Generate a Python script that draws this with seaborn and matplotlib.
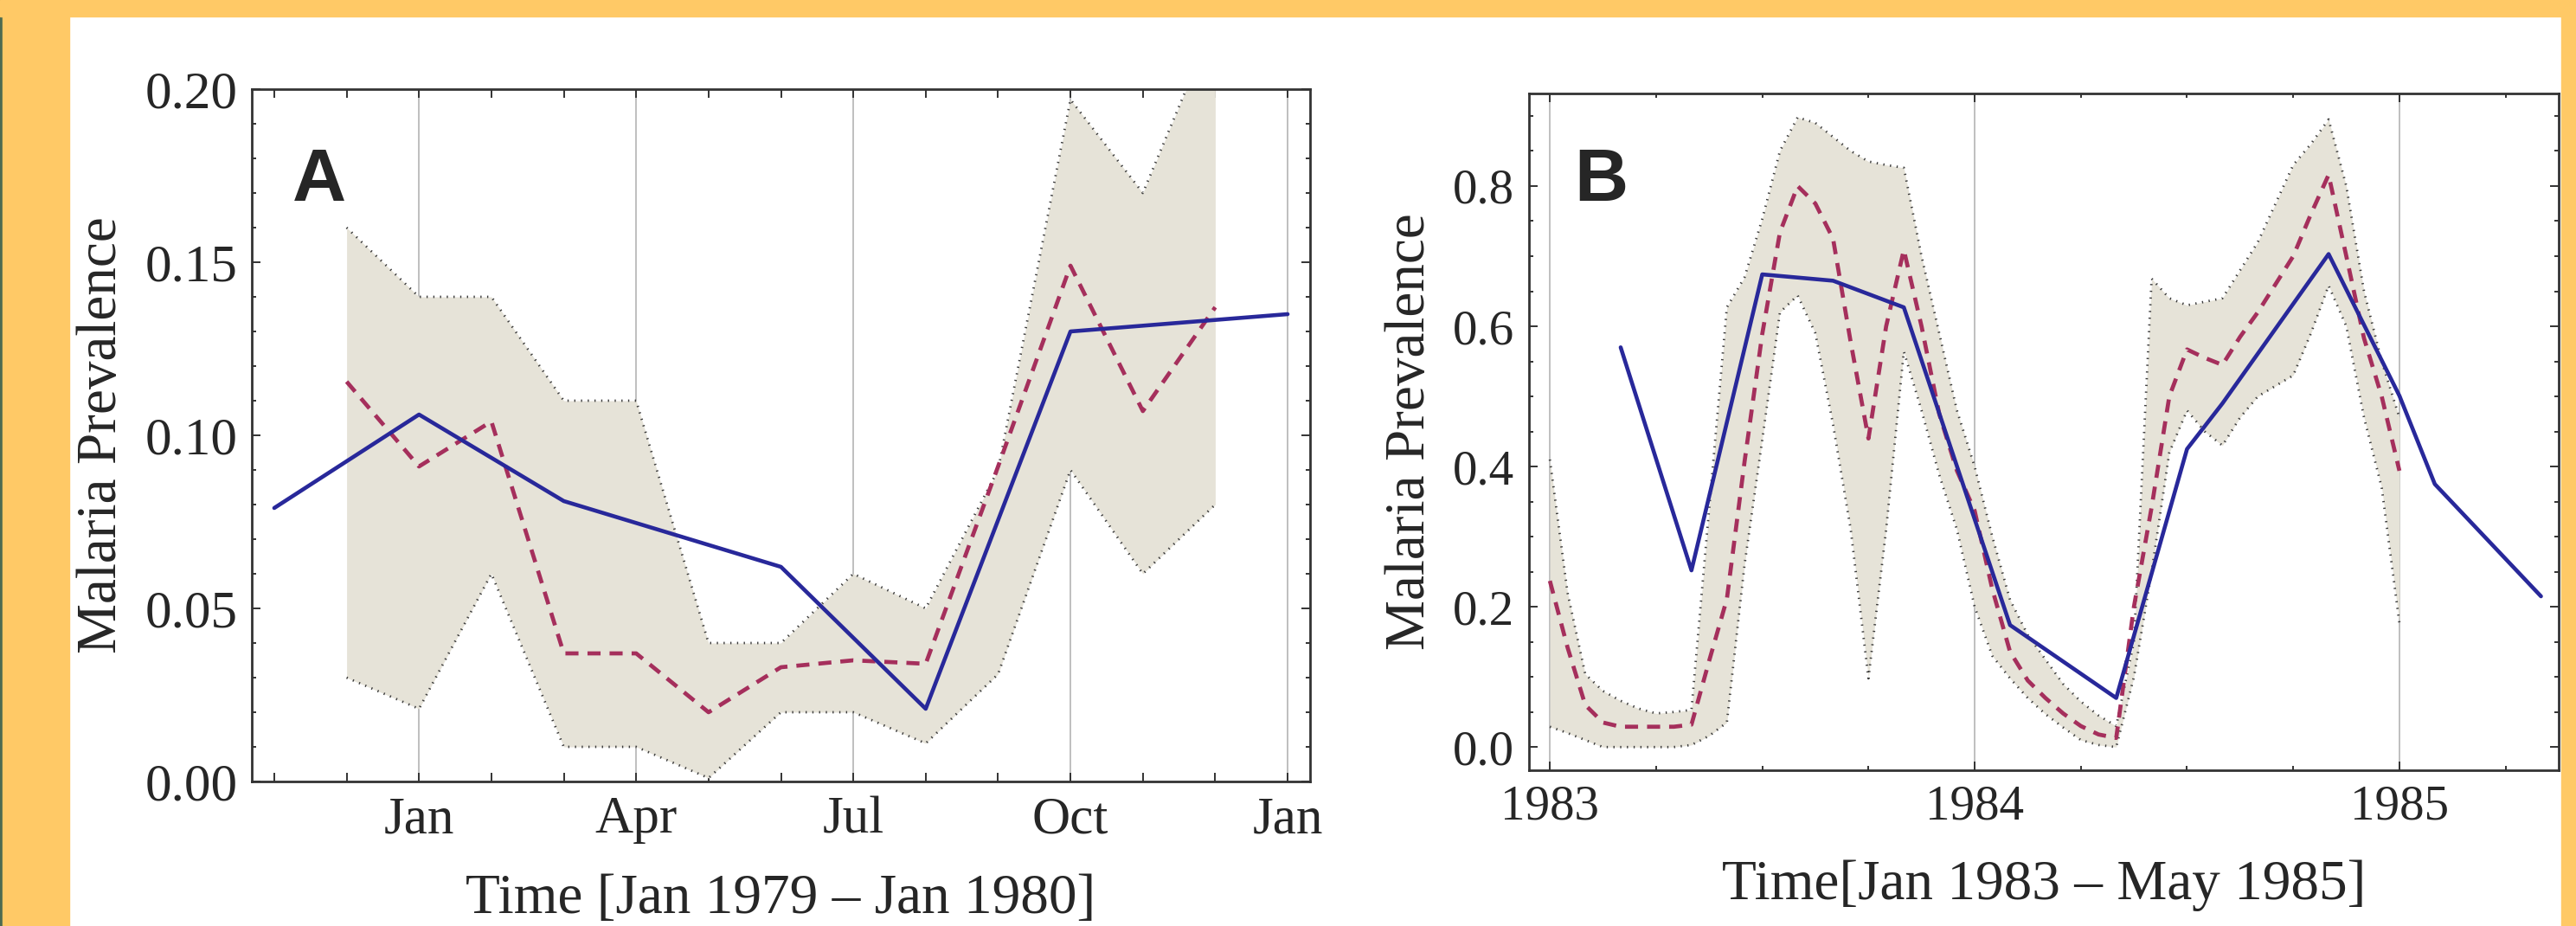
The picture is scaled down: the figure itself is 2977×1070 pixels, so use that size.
import numpy as np
import seaborn as sns
import matplotlib.pyplot as plt
from matplotlib.patches import Rectangle
from matplotlib.ticker import MultipleLocator, FixedLocator

# ---- Panel A: Jan 1979 - Jan 1980 (x in months, 0 = first "Jan" tick) ----
a_obs_months = [-2, 0, 2, 5, 7, 9, 12]
a_obs = [0.079, 0.106, 0.081, 0.062, 0.021, 0.130, 0.135]

a_fit_months = [-1, 0, 1, 2, 3, 4, 5, 6, 7, 8, 9, 10, 11]
a_fit_mean = [0.1155, 0.091, 0.104, 0.037, 0.037, 0.020, 0.033, 0.035, 0.034, 0.091, 0.149, 0.107, 0.137]
a_fit_hi = [0.160, 0.140, 0.140, 0.110, 0.110, 0.040, 0.040, 0.060, 0.050, 0.090, 0.197, 0.170, 0.220]
a_fit_lo = [0.030, 0.021, 0.060, 0.010, 0.010, 0.001, 0.020, 0.020, 0.011, 0.031, 0.090, 0.060, 0.080]

a_tick_pos = [0, 3, 6, 9, 12]
a_tick_labels = ["Jan", "Apr", "Jul", "Oct", "Jan"]

# ---- Panel B: Jan 1983 - May 1985 (x in months, 0 = Jan 1983) ----
b_obs_months = [2, 4, 6, 8, 10, 13, 16, 18, 19, 22, 24, 25, 28]
b_obs = [0.570, 0.252, 0.674, 0.665, 0.627, 0.174, 0.070, 0.425, 0.490, 0.703, 0.501, 0.375, 0.215]

b_fit_months = [0, 0.5, 1, 1.5, 2, 2.5, 3, 3.5, 4, 4.5, 5, 5.5, 6, 6.5, 7, 7.5, 8, 8.5,
                9, 9.5, 10, 10.5, 11, 11.5, 12, 12.5, 13, 13.5, 14, 14.5, 15, 15.5, 16,
                16.5, 17, 17.5, 18, 18.5, 19, 19.5, 20, 20.5, 21, 21.5, 22, 22.5, 23, 23.5, 24]
b_fit_mean = [0.237, 0.142, 0.060, 0.035, 0.029, 0.029, 0.029, 0.029, 0.032, 0.123, 0.211, 0.407,
              0.589, 0.734, 0.800, 0.775, 0.725, 0.577, 0.440, 0.600, 0.709, 0.600, 0.475, 0.394,
              0.337, 0.225, 0.136, 0.095, 0.070, 0.048, 0.030, 0.018, 0.013, 0.200, 0.342, 0.500,
              0.567, 0.555, 0.545, 0.585, 0.620, 0.660, 0.700, 0.760, 0.816, 0.700, 0.583, 0.500, 0.394]
b_fit_hi = [0.410, 0.220, 0.104, 0.080, 0.066, 0.055, 0.048, 0.050, 0.053, 0.340, 0.627, 0.670,
            0.753, 0.850, 0.898, 0.890, 0.870, 0.850, 0.835, 0.830, 0.826, 0.700, 0.590, 0.480,
            0.400, 0.300, 0.210, 0.160, 0.125, 0.090, 0.065, 0.045, 0.030, 0.150, 0.668, 0.640,
            0.630, 0.635, 0.640, 0.680, 0.720, 0.775, 0.830, 0.860, 0.895, 0.800, 0.650, 0.550, 0.470]
b_fit_lo = [0.029, 0.020, 0.010, 0.000, 0.000, 0.000, 0.000, 0.000, 0.003, 0.016, 0.035, 0.260,
            0.438, 0.620, 0.644, 0.590, 0.460, 0.310, 0.098, 0.310, 0.564, 0.480, 0.388, 0.310,
            0.200, 0.130, 0.098, 0.070, 0.047, 0.028, 0.010, 0.003, 0.000, 0.100, 0.250, 0.420,
            0.480, 0.450, 0.430, 0.470, 0.500, 0.515, 0.530, 0.590, 0.658, 0.600, 0.470, 0.370, 0.177]

b_tick_pos = [0, 12, 24]
b_tick_labels = ["1983", "1984", "1985"]

OBS_COLOR = "#28289a"
FIT_COLOR = "#a52f5c"
BAND_COLOR = "#e6e3d8"
EDGE_COLOR = "#3c3c3c"
FRAME_COLOR = "#ffc966"

sns.set_style("ticks")
plt.rcParams["font.family"] = ["Liberation Serif", "DejaVu Serif"]

W, H = 2977, 1070
fig = plt.figure(figsize=(W / 100, H / 100), dpi=100)
fig.patch.set_facecolor("white")

# orange frame around the white panel
fig.add_artist(Rectangle((0, 0), 3 / W, 1, transform=fig.transFigure, color="#4d6b50", zorder=0))
fig.add_artist(Rectangle((3 / W, 0), 77 / W, 1, transform=fig.transFigure, color=FRAME_COLOR, zorder=0))
fig.add_artist(Rectangle((0, 1 - 19 / H), 1, 19 / H, transform=fig.transFigure, color=FRAME_COLOR, zorder=0))
fig.add_artist(Rectangle((2960 / W, 0), 17 / W, 1, transform=fig.transFigure, color=FRAME_COLOR, zorder=0))


def px_axes(left, top, right, bottom):
    return fig.add_axes([left / W, 1 - bottom / H, (right - left) / W, (bottom - top) / H])


def draw_panel(ax, fit_x, mean, lo, hi, obs_x, obs):
    ax.fill_between(fit_x, lo, hi, color=BAND_COLOR, linewidth=0, zorder=1)
    for edge in (hi, lo):
        sns.lineplot(x=fit_x, y=edge, ax=ax, color=EDGE_COLOR, linewidth=2.0,
                     linestyle=(0, (0.5, 2.3)), estimator=None, sort=False, zorder=2)
    sns.lineplot(x=fit_x, y=mean, ax=ax, color=FIT_COLOR, linewidth=3.4,
                 linestyle=(0, (3.2, 2.2)), estimator=None, sort=False, zorder=3)
    sns.lineplot(x=obs_x, y=obs, ax=ax, color=OBS_COLOR, linewidth=3.3,
                 estimator=None, sort=False, zorder=4)


def style_axes(ax, tick_size):
    for s in ax.spines.values():
        s.set_visible(True)
        s.set_linewidth(2.0)
        s.set_color("#333333")
    ax.tick_params(which="both", direction="in", top=True, right=True,
                   width=1.4, color="#333333", labelsize=tick_size)
    ax.tick_params(which="major", length=7, pad=12)
    ax.tick_params(which="minor", length=3.8)
    ax.grid(False)


# ---- Panel A ----
axA = px_axes(291, 103, 1514, 903)
draw_panel(axA, a_fit_months, a_fit_mean, a_fit_lo, a_fit_hi, a_obs_months, a_obs)
axA.set_xlim(-2.31, 12.31)
axA.set_ylim(0, 0.20)
axA.xaxis.set_major_locator(FixedLocator(a_tick_pos))
axA.set_xticklabels(a_tick_labels)
axA.xaxis.set_minor_locator(MultipleLocator(1))
axA.yaxis.set_major_locator(MultipleLocator(0.05))
axA.yaxis.set_minor_locator(MultipleLocator(0.01))
axA.yaxis.set_major_formatter(plt.FormatStrFormatter("%.2f"))
style_axes(axA, 44)
axA.tick_params(axis="x", which="minor", length=7)
for p in a_tick_pos:
    axA.axvline(p, color="#adadad", linewidth=1.1, zorder=0.5)
axA.set_xlabel("Time [Jan 1979 \u2013 Jan 1980]", fontsize=47, labelpad=25)
axA.set_ylabel("Malaria Prevalence", fontsize=47, labelpad=14)
axA.text(0.038, 0.839, "A", transform=axA.transAxes, fontsize=62, fontweight="bold",
         family=["Liberation Sans", "DejaVu Sans"], va="baseline", ha="left", zorder=5)

# ---- Panel B ----
axB = px_axes(1767, 108, 2957, 890)
draw_panel(axB, b_fit_months, b_fit_mean, b_fit_lo, b_fit_hi, b_obs_months, b_obs)
axB.set_xlim(-0.59, 28.5)
axB.set_ylim(-0.033, 0.932)
axB.xaxis.set_major_locator(FixedLocator(b_tick_pos))
axB.set_xticklabels(b_tick_labels)
axB.xaxis.set_minor_locator(MultipleLocator(3))
axB.yaxis.set_major_locator(MultipleLocator(0.2))
axB.yaxis.set_minor_locator(MultipleLocator(0.05))
axB.yaxis.set_major_formatter(plt.FormatStrFormatter("%.1f"))
style_axes(axB, 41)
for p in b_tick_pos:
    axB.axvline(p, color="#adadad", linewidth=1.1, zorder=0.5)
axB.set_xlabel("Time[Jan 1983 \u2013 May 1985]", fontsize=47, labelpad=25)
axB.set_ylabel("Malaria Prevalence", fontsize=47, labelpad=14)
axB.text(0.044, 0.841, "B", transform=axB.transAxes, fontsize=62, fontweight="bold",
         family=["Liberation Sans", "DejaVu Sans"], va="baseline", ha="left", zorder=5)

fig.savefig("out.png", dpi=100, facecolor=fig.get_facecolor())
